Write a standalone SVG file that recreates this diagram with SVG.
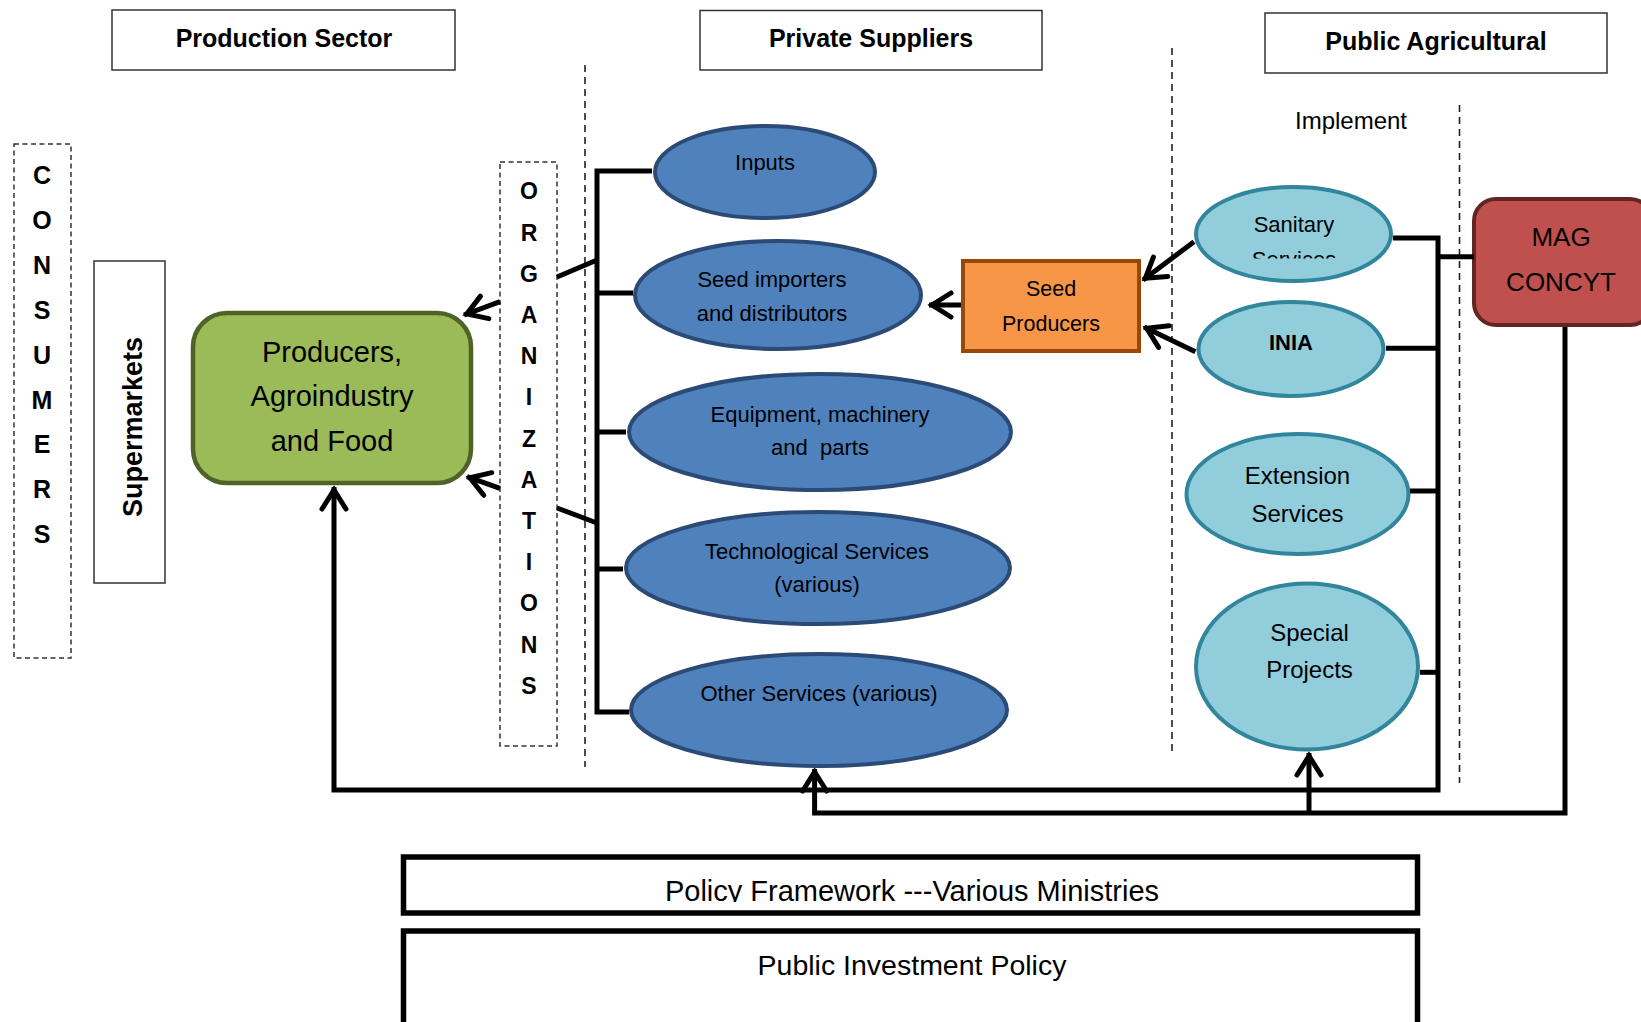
<svg xmlns="http://www.w3.org/2000/svg" width="1641" height="1022" viewBox="0 0 1641 1022">
<defs>
<style>
.t{font-family:"Liberation Sans",Arial,sans-serif;fill:#000}
.b{font-weight:bold}
.title{fill:#fff;stroke:#333;stroke-width:1.5}
.dash{fill:none;stroke:#333;stroke-width:1.5;stroke-dasharray:5 3.5}
.vdash{fill:none;stroke:#222;stroke-width:1.6;stroke-dasharray:7 5}
.dk{fill:#4F81BD;stroke:#2B4A75;stroke-width:4}
.lt{fill:#92CDDC;stroke:#31859C;stroke-width:4}
.con{fill:none;stroke:#000;stroke-width:5;stroke-linejoin:miter}
.arr{fill:none;stroke:#000;stroke-width:5;marker-end:url(#ah)}
.pol{fill:#fff;stroke:#000;stroke-width:5.5}
</style>
<marker id="ah" viewBox="-27 -16 32 32" markerWidth="32" markerHeight="32" refX="0" refY="0" orient="auto" markerUnits="userSpaceOnUse">
<path d="M-22,-12 L-3,0 L-22,12" fill="none" stroke="#000" stroke-width="5" stroke-linecap="round"/>
</marker>
<clipPath id="clipSan"><rect x="1180" y="180" width="230" height="78.5"/></clipPath>
<clipPath id="clipPol"><rect x="400" y="850" width="1030" height="52"/></clipPath>
</defs>
<rect width="1641" height="1022" fill="#fff"/>

<!-- section dividers -->
<g id="dividers">
<line class="vdash" x1="585" y1="65" x2="585" y2="767"/>
<line class="vdash" x1="1172" y1="48" x2="1172" y2="751"/>
<line class="vdash" x1="1459.5" y1="105" x2="1459.5" y2="783"/>
</g>

<g id="title-production">
<rect class="title" x="112" y="10" width="343" height="60"/>
<text class="t b" x="284" y="47" font-size="25" text-anchor="middle">Production Sector</text>
</g>
<g id="title-private">
<rect class="title" x="700" y="10.5" width="342" height="59.5"/>
<text class="t b" x="871" y="47" font-size="25" text-anchor="middle">Private Suppliers</text>
</g>
<g id="title-public">
<rect class="title" x="1265" y="13" width="342" height="60"/>
<text class="t b" x="1436" y="50" font-size="25" text-anchor="middle">Public Agricultural</text>
</g>
<g id="label-implement">
<text class="t" x="1351" y="129" font-size="24" text-anchor="middle">Implement</text>
</g>

<g id="consumers">
<rect class="dash" x="14" y="144" width="57" height="514"/>
<g class="t b" font-size="25" text-anchor="middle">
<text x="42" y="184">C</text>
<text x="42" y="229">O</text>
<text x="42" y="274">N</text>
<text x="42" y="319">S</text>
<text x="42" y="364">U</text>
<text x="42" y="409">M</text>
<text x="42" y="453">E</text>
<text x="42" y="498">R</text>
<text x="42" y="543">S</text>
</g>
</g>

<g id="supermarkets">
<rect x="94" y="261" width="71" height="322" fill="#fff" stroke="#333" stroke-width="1.5"/>
<text class="t b" font-size="27" text-anchor="middle" transform="translate(141.5,427) rotate(-90)">Supermarkets</text>
</g>

<g id="producers">
<rect x="193" y="313" width="278" height="170" rx="34" fill="#9BBB59" stroke="#4F6228" stroke-width="4.5"/>
<g class="t" font-size="29" text-anchor="middle">
<text x="332" y="362">Producers,</text>
<text x="332" y="406">Agroindustry</text>
<text x="332" y="451">and Food</text>
</g>
</g>

<g id="organizations">
<rect class="dash" x="500" y="162" width="57" height="584"/>
<g class="t b" font-size="23" text-anchor="middle">
<text x="529" y="199">O</text>
<text x="529" y="240.5">R</text>
<text x="529" y="281.5">G</text>
<text x="529" y="323">A</text>
<text x="529" y="364">N</text>
<text x="529" y="405">I</text>
<text x="529" y="446.5">Z</text>
<text x="529" y="487.5">A</text>
<text x="529" y="529">T</text>
<text x="529" y="570">I</text>
<text x="529" y="611">O</text>
<text x="529" y="652.5">N</text>
<text x="529" y="693.5">S</text>
</g>
</g>

<g id="inputs">
<ellipse class="dk" cx="765" cy="172" rx="110" ry="46"/>
<text class="t" x="765" y="170" font-size="22" text-anchor="middle">Inputs</text>
</g>
<g id="seed-importers">
<ellipse class="dk" cx="778" cy="295" rx="143" ry="54"/>
<g class="t" font-size="22" text-anchor="middle">
<text x="772" y="287">Seed importers</text>
<text x="772" y="321">and distributors</text>
</g>
</g>
<g id="equipment">
<ellipse class="dk" cx="820" cy="432" rx="191" ry="58"/>
<g class="t" font-size="22" text-anchor="middle">
<text x="820" y="422">Equipment, machinery</text>
<text x="820" y="455" style="white-space:pre">and  parts</text>
</g>
</g>
<g id="technological">
<ellipse class="dk" cx="818" cy="568" rx="192" ry="56"/>
<g class="t" font-size="22" text-anchor="middle">
<text x="817" y="559">Technological Services</text>
<text x="817" y="592">(various)</text>
</g>
</g>
<g id="other-services">
<ellipse class="dk" cx="819" cy="710" rx="188" ry="56"/>
<text class="t" x="819" y="701" font-size="22" text-anchor="middle">Other Services (various)</text>
</g>

<g id="seed-producers">
<rect x="963" y="261" width="176" height="90" fill="#F79646" stroke="#984807" stroke-width="4"/>
<g class="t" font-size="21.5" text-anchor="middle">
<text x="1051" y="296">Seed</text>
<text x="1051" y="331">Producers</text>
</g>
</g>

<g id="sanitary">
<ellipse class="lt" cx="1293.5" cy="234" rx="97.5" ry="47"/>
<text class="t" x="1294" y="232" font-size="22" text-anchor="middle">Sanitary</text>
<text class="t" x="1294" y="266.5" font-size="22" text-anchor="middle" clip-path="url(#clipSan)">Services</text>
</g>
<g id="inia">
<ellipse class="lt" cx="1291" cy="349" rx="92.5" ry="47"/>
<text class="t b" x="1291" y="350" font-size="22" text-anchor="middle">INIA</text>
</g>
<g id="extension">
<ellipse class="lt" cx="1297.5" cy="494" rx="111" ry="60"/>
<g class="t" font-size="24" text-anchor="middle">
<text x="1297.5" y="484">Extension</text>
<text x="1297.5" y="521.5">Services</text>
</g>
</g>
<g id="special-projects">
<ellipse class="lt" cx="1307" cy="666.5" rx="111" ry="83"/>
<g class="t" font-size="24" text-anchor="middle">
<text x="1309.5" y="641">Special</text>
<text x="1309.5" y="678">Projects</text>
</g>
</g>

<g id="mag-concyt">
<rect x="1474" y="199" width="178" height="126" rx="22" fill="#C0504D" stroke="#632523" stroke-width="4"/>
<g class="t" font-size="26" text-anchor="middle">
<text x="1561" y="246">MAG</text>
<text x="1561" y="291">CONCYT</text>
</g>
</g>

<g id="policy-framework">
<rect class="pol" x="403.5" y="857" width="1014" height="56"/>
<text class="t" x="912" y="900.5" font-size="29" text-anchor="middle" clip-path="url(#clipPol)">Policy Framework ---Various Ministries</text>
</g>
<g id="public-investment">
<rect class="pol" x="403.5" y="931" width="1014" height="100"/>
<text class="t" x="912" y="975" font-size="28.5" text-anchor="middle">Public Investment Policy</text>
</g>

<g id="connectors">
<!-- private suppliers bus -->
<path class="con" d="M652,171 H597 V712 H629"/>
<path class="con" d="M597,293 H633"/>
<path class="con" d="M597,432 H626"/>
<path class="con" d="M597,569 H623"/>
<path class="con" d="M557,277 L597,260" stroke-width="4.5"/>
<path class="con" d="M557,508 L597,523" stroke-width="4.5"/>
<!-- organizations to producers -->
<path class="arr" d="M500,301.7 L464,315"/>
<path class="arr" d="M500,488.3 L467,476.7"/>
<!-- seed chain -->
<path class="arr" d="M961,305 L929,305"/>
<path class="arr" d="M1194,241.7 L1143,280"/>
<path class="arr" d="M1195.4,351.7 L1144,327"/>
<!-- public bus -->
<path class="arr" d="M1393,238 H1438 V790 H334 V487"/>
<path class="con" d="M1386,348.3 H1438"/>
<path class="con" d="M1410,491 H1438"/>
<path class="con" d="M1420,672.3 H1438"/>
<path class="con" d="M1438,256.7 H1474"/>
<!-- MAG line -->
<path class="arr" d="M1565,327 V813 H814.6 V769"/>
<path class="arr" d="M1309,813 V753"/>
</g>
</svg>
